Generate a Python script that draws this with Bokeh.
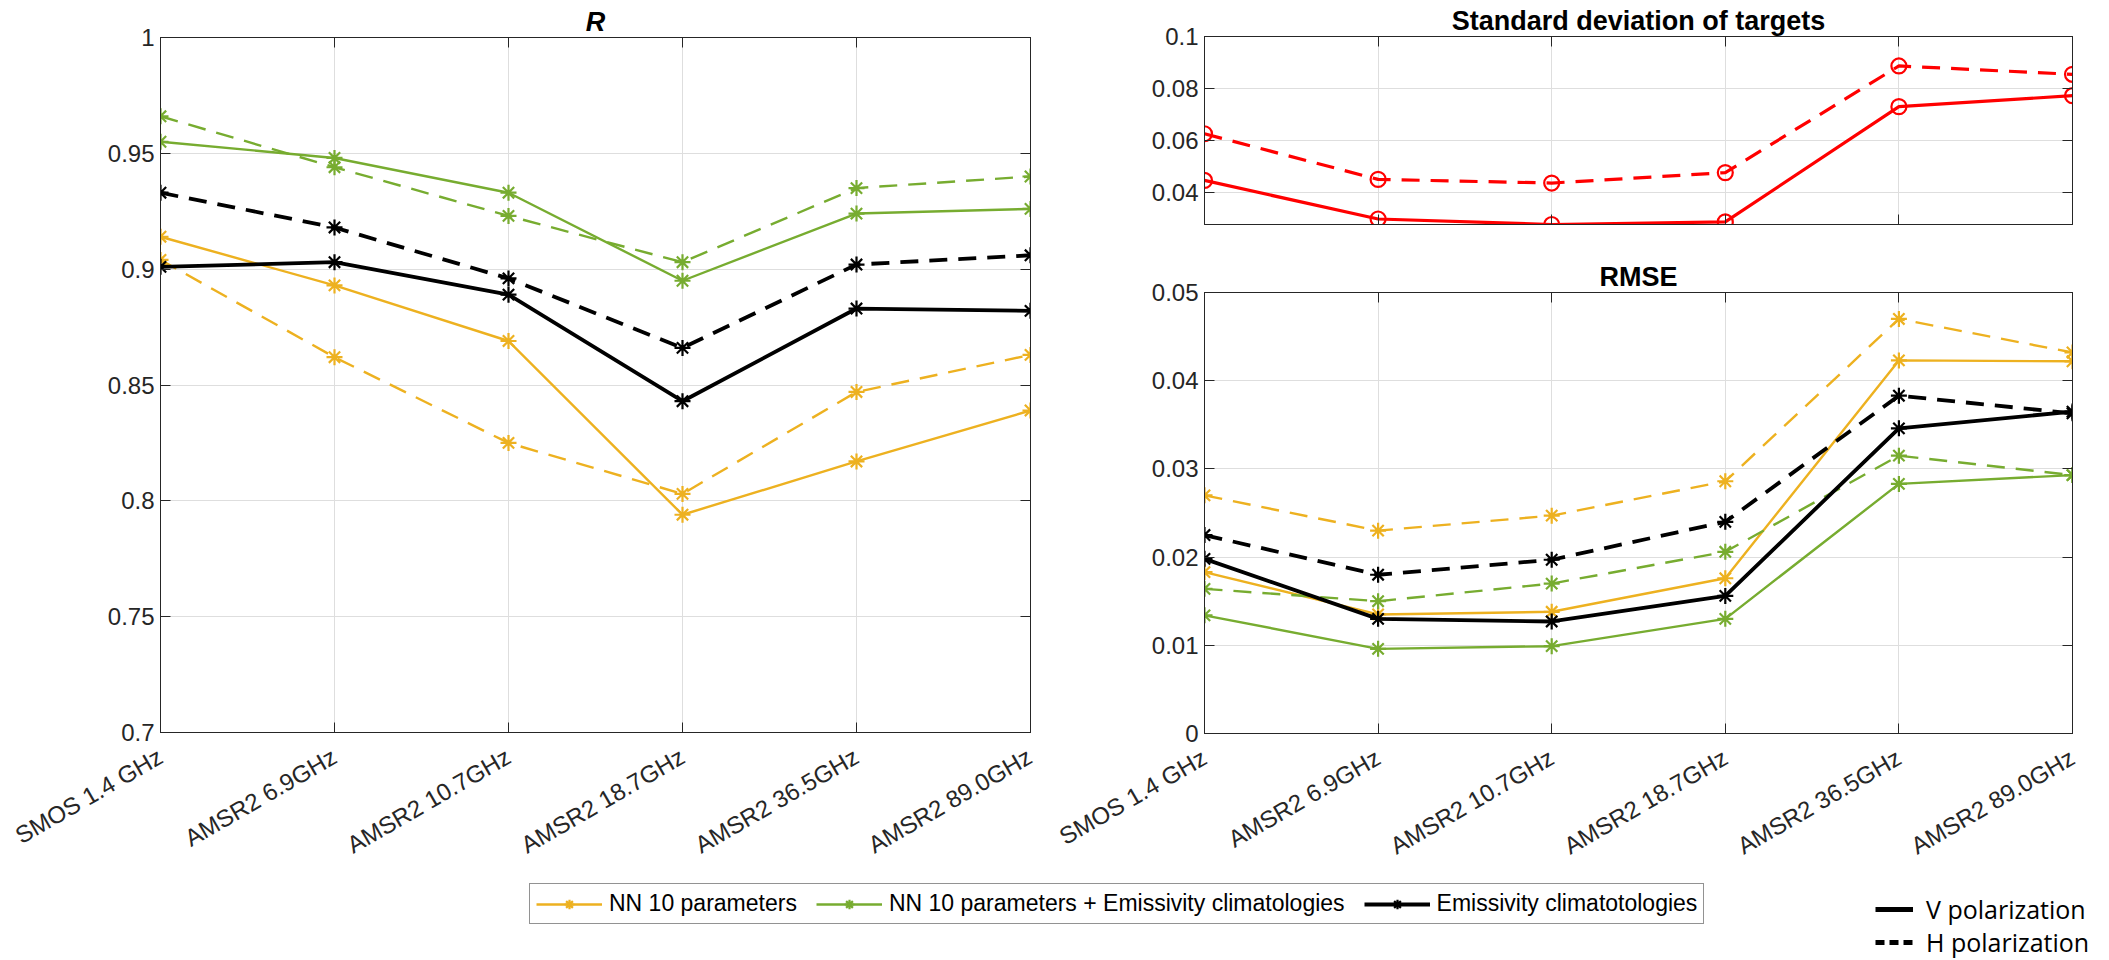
import math
from bokeh.plotting import figure
from bokeh.models import (FixedTicker, LinearAxis, Range1d, Legend, LegendItem,
                          CustomLabelingPolicy)
from bokeh.layouts import row, column
from bokeh.embed import file_html
from bokeh.resources import INLINE

# ---------------- data ----------------
categories = ["SMOS 1.4 GHz", "AMSR2 6.9GHz", "AMSR2 10.7GHz",
              "AMSR2 18.7GHz", "AMSR2 36.5GHz", "AMSR2 89.0GHz"]
x_idx = list(range(1, len(categories) + 1))

series_names = ["NN 10 parameters",
                "NN 10 parameters + Emissivity climatologies",
                "Emissivity climatotologies"]
pol_names = ["V polarization", "H polarization"]

# R  (V = solid, H = dashed)
r_nn_v = [0.914, 0.893, 0.869, 0.794, 0.817, 0.839]
r_nn_h = [0.904, 0.862, 0.825, 0.803, 0.847, 0.863]
r_nnemis_v = [0.955, 0.948, 0.933, 0.895, 0.924, 0.926]
r_nnemis_h = [0.966, 0.944, 0.923, 0.903, 0.935, 0.940]
r_emis_v = [0.901, 0.903, 0.889, 0.843, 0.883, 0.882]
r_emis_h = [0.933, 0.918, 0.896, 0.866, 0.902, 0.906]

# Standard deviation of targets
std_v = [0.0448, 0.0300, 0.0279, 0.0289, 0.0731, 0.0773]
std_h = [0.0627, 0.0452, 0.0438, 0.0478, 0.0887, 0.0855]

# RMSE
rmse_nn_v = [0.0183, 0.0135, 0.0138, 0.0176, 0.0423, 0.0422]
rmse_nn_h = [0.0270, 0.0230, 0.0247, 0.0286, 0.0470, 0.0432]
rmse_nnemis_v = [0.0134, 0.0096, 0.0099, 0.0130, 0.0283, 0.0293]
rmse_nnemis_h = [0.0164, 0.0150, 0.0170, 0.0206, 0.0315, 0.0293]
rmse_emis_v = [0.0198, 0.0130, 0.0127, 0.0156, 0.0346, 0.0365]
rmse_emis_h = [0.0225, 0.0180, 0.0197, 0.0240, 0.0383, 0.0363]

r_ticks = [0.7, 0.75, 0.8, 0.85, 0.9, 0.95, 1.0]
r_tick_labels = ["0.7", "0.75", "0.8", "0.85", "0.9", "0.95", "1"]
std_ticks = [0.04, 0.06, 0.08, 0.1]
std_tick_labels = ["0.04", "0.06", "0.08", "0.1"]
rmse_ticks = [0.0, 0.01, 0.02, 0.03, 0.04, 0.05]
rmse_tick_labels = ["0", "0.01", "0.02", "0.03", "0.04", "0.05"]

r_range = (0.7, 1.0)
std_range = (0.0279, 0.1)
rmse_range = (0.0, 0.05)

# ---------------- style ----------------
ORANGE = "#EDB120"
GREEN = "#77AC30"
BLACK = "#000000"
RED = "#FF0000"
AX = "#262626"
GRID = "#dedede"
FONT = "Liberation Sans"
DASH = "18 11"
NAN = float("nan")
CW = 2.4   # coloured line width
BW = 3.8   # black line width
MS = 16    # asterisk size
MW = 2.2   # asterisk stroke


def hide_labels(ax):
    ax.major_label_text_font_size = "0px"
    ax.major_label_standoff = 0
    ax.major_label_policy = CustomLabelingPolicy(
        code="for (const i of Array.from(indices)) indices.unset(i)\nreturn indices")


def make_fig(fw, fh, bl, bt, br, bb, yr, yticks, ylabels, title, italic, xlabels):
    p = figure(frame_width=fw, frame_height=fh,
               min_border_left=bl, min_border_top=bt,
               min_border_right=br, min_border_bottom=bb,
               x_range=Range1d(x_idx[0], x_idx[-1]), y_range=Range1d(*yr),
               output_backend="svg", toolbar_location=None, title=title)
    p.title.align = "center"
    p.title.text_font = FONT
    p.title.text_font_size = "27px"
    p.title.text_font_style = "bold italic" if italic else "bold"
    p.title.text_color = "#000000"
    p.title.standoff = 2
    p.outline_line_color = AX
    p.outline_line_width = 1
    p.border_fill_color = "white"
    xt = FixedTicker(ticks=x_idx)
    yt = FixedTicker(ticks=yticks)
    bottom = p.xaxis[0]
    left = p.yaxis[0]
    bottom.ticker = xt
    left.ticker = yt
    p.xgrid.ticker = xt
    p.ygrid.ticker = yt
    for g in p.grid:
        g.grid_line_color = GRID
        g.grid_line_width = 1
    top = LinearAxis(ticker=xt)
    right = LinearAxis(ticker=yt)
    p.add_layout(top, "above")
    p.add_layout(right, "right")
    for ax in [bottom, left, top, right]:
        ax.axis_line_color = AX
        ax.major_tick_in = 10
        ax.major_tick_out = 0
        ax.major_tick_line_color = AX
        ax.minor_tick_line_color = None
        ax.major_label_text_font = FONT
        ax.major_label_text_font_size = "24px"
        ax.major_label_text_color = AX
    hide_labels(top)
    hide_labels(right)
    left.major_label_overrides = dict(zip(yticks, ylabels))
    left.major_label_standoff = 6
    if xlabels:
        bottom.major_label_overrides = dict(zip(x_idx, categories))
        bottom.major_label_orientation = math.pi / 6
        bottom.major_label_standoff = 22
    else:
        hide_labels(bottom)
    return p


def add_series(p, y, color, dashed, width):
    p.line(x_idx, y, line_color=color, line_width=width,
           line_dash=DASH if dashed else "solid")
    p.scatter(x_idx, y, marker="asterisk", size=MS, line_color=color, line_width=MW)


# R figure
pR = make_fig(870, 695, 160, 37, 6, 136, r_range, r_ticks, r_tick_labels, "R", True, True)
add_series(pR, r_nn_h, ORANGE, True, CW)
add_series(pR, r_nn_v, ORANGE, False, CW)
add_series(pR, r_nnemis_h, GREEN, True, CW)
add_series(pR, r_nnemis_v, GREEN, False, CW)
add_series(pR, r_emis_h, BLACK, True, BW)
add_series(pR, r_emis_v, BLACK, False, BW)

# Std figure
pS = make_fig(868, 188, 168, 36, 30, 16, std_range, std_ticks, std_tick_labels,
              "Standard deviation of targets", False, False)
pS.line(x_idx, std_h, line_color=RED, line_width=3.2, line_dash=DASH)
pS.scatter(x_idx, std_h, marker="circle", size=15, fill_color=None, line_color=RED, line_width=2.2)
pS.line(x_idx, std_v, line_color=RED, line_width=3.2)
pS.scatter(x_idx, std_v, marker="circle", size=15, fill_color=None, line_color=RED, line_width=2.2)

# RMSE figure
pE = make_fig(868, 441, 168, 52, 30, 135, rmse_range, rmse_ticks, rmse_tick_labels,
              "RMSE", False, True)
add_series(pE, rmse_nn_h, ORANGE, True, CW)
add_series(pE, rmse_nn_v, ORANGE, False, CW)
add_series(pE, rmse_nnemis_h, GREEN, True, CW)
add_series(pE, rmse_nnemis_v, GREEN, False, CW)
add_series(pE, rmse_emis_h, BLACK, True, BW)
add_series(pE, rmse_emis_v, BLACK, False, BW)

# Bottom legend strip
LH = 90
pL = figure(width=2102, height=LH, x_range=Range1d(0, 1), y_range=Range1d(0, 1),
            output_backend="svg", toolbar_location=None, min_border=0,
            x_axis_location=None, y_axis_location=None)
pL.outline_line_color = None
pL.xgrid.visible = False
pL.ygrid.visible = False

items = []
for name, color, w in zip(series_names, [ORANGE, GREEN, BLACK], [CW, CW, BW]):
    lr = pL.line([NAN], [NAN], line_color=color, line_width=w)
    sr = pL.scatter([NAN], [NAN], marker="asterisk", size=MS, line_color=color, line_width=MW)
    items.append(LegendItem(label=name, renderers=[lr, sr]))
leg = Legend(items=items, orientation="horizontal", location=(529, LH - 9 - 42),
             label_text_font=FONT, label_text_font_size="23px", label_text_color="#000000",
             glyph_width=66, glyph_height=24, label_height=24, label_standoff=7,
             spacing=19, padding=6, margin=0, border_line_color=AX, border_line_width=1,
             background_fill_color="white", background_fill_alpha=1)
pL.add_layout(leg)

lv = pL.line([NAN], [NAN], line_color=BLACK, line_width=5)
lh = pL.line([NAN], [NAN], line_color=BLACK, line_width=5, line_dash="9 5")
for lbl, rend, yc in [(pol_names[0], lv, 38), (pol_names[1], lh, 71)]:
    lg = Legend(items=[LegendItem(label=lbl, renderers=[rend])],
                location=(1875, LH - yc - 15),
                label_text_font="Open Sans", label_text_font_size="25px",
                label_text_color="#000000", glyph_width=38, glyph_height=30,
                label_height=30, label_standoff=13, padding=0, margin=0,
                border_line_color=None, background_fill_alpha=0)
    pL.add_layout(lg)

layout = column(row(pR, column(pS, pE)), pL)
open("out.html", "w").write(file_html(layout, INLINE))
